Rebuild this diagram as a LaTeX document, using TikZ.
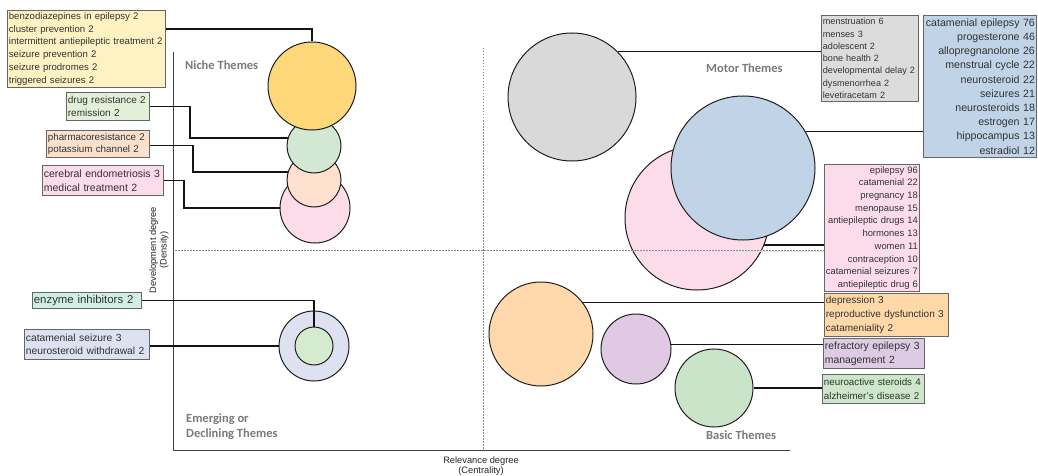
\documentclass[tikz,border=0pt]{standalone}
\usepackage{fontspec}
\setmainfont{Liberation Sans}
\newfontfamily\themefont{Carlito}
\definecolor{cYel}{HTML}{FDD77A}
\definecolor{bYel}{HTML}{FFF2C2}
\definecolor{cGrn}{HTML}{D3E8D2}
\definecolor{bGrn}{HTML}{E2EFD9}
\definecolor{cPch}{HTML}{FFE0CF}
\definecolor{bPch}{HTML}{FBE0CC}
\definecolor{cPnk}{HTML}{FDDCEA}
\definecolor{bPnk}{HTML}{FCDCEA}
\definecolor{bMnt}{HTML}{D0EEE2}
\definecolor{cLav}{HTML}{DDE1F0}
\definecolor{cInG}{HTML}{D5EBCF}
\definecolor{cGry}{HTML}{D9D9D9}
\definecolor{bGry}{HTML}{DCDCDC}
\definecolor{cBlu}{HTML}{C0D3E7}
\definecolor{cOrg}{HTML}{FFD9AB}
\definecolor{bOrg}{HTML}{FFD8A8}
\definecolor{cPur}{HTML}{E0C9E2}
\definecolor{bPur}{HTML}{DCCBE2}
\definecolor{cBgr}{HTML}{C9E4C8}
\definecolor{bBgr}{HTML}{CDE6CC}
\definecolor{gLine}{HTML}{D6EBD0}
\begin{document}
\begin{tikzpicture}[x=1pt,y=-1pt,
  kbox/.style={draw=black!60, line width=0.8pt, anchor=north west, inner xsep=1.5pt, inner ysep=0pt, text=black!80},
  bub/.style={circle, draw=black!88, line width=1pt, inner sep=0pt},
  link/.style={draw=black!92, line width=1.4pt},
  guide/.style={draw=black!45, dash pattern=on 1.5pt off 1.5pt, line width=0.6pt},
  axisline/.style={draw=black!75, line width=0.8pt},
  theme/.style={font=\themefont\bfseries\fontsize{12.5}{15}\selectfont, text=black!52, anchor=west, inner sep=0pt, align=left},
  axlabel/.style={font=\fontsize{9.3}{10.5}\selectfont, text=black!85, align=center, inner sep=0pt}]
\useasboundingbox (0,0) rectangle (1038,476);
\fill[white] (0,0) rectangle (1038,476);

% axes and vertical guide
\coordinate (axTop) at (173,52);
\coordinate (axOrg) at (173,450);
\coordinate (axEnd) at (790,450);
\draw[axisline] (axTop) -- (axOrg) -- (axEnd);
\coordinate (vTop) at (483,48);
\coordinate (vBot) at (483,450);
\draw[guide] (vTop) -- (vBot);

% axis labels
\node[axlabel] (xlab) at (481,466) {Relevance degree\\(Centrality)};
\node[axlabel, rotate=90] (ylab) at (159,250) {Development degree\\(Density)};

% theme labels
\node[theme] (niche) at (185,65) {Niche Themes};
\node[theme] (motor) at (706,68) {Motor Themes};
\node[theme] (emerg) at (186,426.5) {Emerging or\\Declining Themes};
\node[theme] (basic) at (706,435) {Basic Themes};

% niche circles
\node[bub, fill=cPnk, minimum size=70pt] (kc) at (315,208) {};
\node[bub, fill=cPch, minimum size=54pt] (pc) at (314,180) {};
\node[bub, fill=cGrn, minimum size=54pt] (gc) at (314,146) {};
\node[bub, fill=cYel, minimum size=88pt] (yc) at (312,86) {};

% emerging circles
\node[bub, fill=cLav, minimum size=70pt] (oc) at (314,346) {};
\node[bub, fill=cInG, minimum size=38pt] (ic) at (314,346) {};

% motor circles
\node[bub, fill=cGry, minimum size=128pt] (grc) at (572,97) {};
\node[bub, fill=cPnk, minimum size=144pt] (pkc) at (697,218) {};
\node[bub, fill=cBlu, minimum size=144pt] (bc) at (743,168) {};

% basic circles
\node[bub, fill=cOrg, minimum size=104pt] (orc) at (541,334) {};
\node[bub, fill=cPur, minimum size=70pt] (puc) at (636,349) {};
\node[bub, fill=cBgr, minimum size=78pt] (gnc) at (714,388) {};

% horizontal guide (over the circles)
\coordinate (hL) at (175,250);
\coordinate (hR) at (824,250);
\coordinate (gL) at (740,251.6);
\coordinate (gR) at (824,251.6);
\draw[gLine, line width=0.8pt] (gL) -- (gR);
\draw[guide] (hL) -- (hR);

% boxes left
\node[kbox, fill=bYel, text width=155pt, minimum height=77pt, align=left,
  font=\fontsize{9.6}{12.8}\selectfont] (Y) at (7,10)
  {benzodiazepines in epilepsy 2\\cluster prevention 2\\intermittent antiepileptic treatment 2\\seizure prevention 2\\seizure prodromes 2\\triggered seizures 2};
\node[kbox, fill=bGrn, text width=80pt, minimum height=28pt, align=left,
  font=\fontsize{10}{13}\selectfont] (G1) at (66,92)
  {drug resistance 2\\remission 2};
\node[kbox, fill=bPch, text width=100pt, minimum height=27pt, align=left,
  font=\fontsize{9.8}{12.5}\selectfont] (P1) at (46,130)
  {pharmacoresistance 2\\potassium channel 2};
\node[kbox, fill=bPnk, text width=118pt, minimum height=30pt, align=left,
  font=\fontsize{10.5}{14}\selectfont] (K1) at (42,165)
  {cerebral endometriosis 3\\medical treatment 2};
\node[kbox, fill=bMnt, text width=106pt, minimum height=16pt, align=left,
  font=\fontsize{11.4}{13}\selectfont] (E) at (32,292)
  {enzyme inhibitors 2};
\node[kbox, fill=cLav, text width=122pt, minimum height=30pt, align=left,
  font=\fontsize{10.3}{13.5}\selectfont] (L) at (24,329)
  {catamenial seizure 3\\neurosteroid withdrawal 2};

% boxes right
\node[kbox, fill=bGry, text width=94pt, minimum height=86pt, align=left,
  font=\fontsize{9.1}{12.3}\selectfont] (GR) at (821,15)
  {menstruation 6\\menses 3\\adolescent 2\\bone health 2\\developmental delay 2\\dysmenorrhea 2\\levetiracetam 2};
\node[kbox, fill=cBlu, text width=110pt, minimum height=142pt, align=right,
  font=\fontsize{10.6}{14.2}\selectfont] (B) at (923,15)
  {catamenial epilepsy 76\\progesterone 46\\allopregnanolone 26\\menstrual cycle 22\\neurosteroid 22\\seizures 21\\neurosteroids 18\\estrogen 17\\hippocampus 13\\estradiol 12};
\node[kbox, fill=bPnk, text width=92pt, minimum height=127pt, align=right,
  font=\fontsize{9.4}{12.7}\selectfont] (PK) at (824,164)
  {epilepsy 96\\catamenial 22\\pregnancy 18\\menopause 15\\antiepileptic drugs 14\\hormones 13\\women 11\\contraception 10\\catamenial seizures 7\\antiepileptic drug 6};
\node[kbox, fill=bOrg, text width=121pt, minimum height=43pt, align=left,
  font=\fontsize{10}{14}\selectfont] (O) at (824,293)
  {depression 3\\reproductive dysfunction 3\\catameniality 2};
\node[kbox, fill=bPur, text width=98pt, minimum height=30pt, align=left,
  font=\fontsize{10.4}{14}\selectfont] (PU) at (823,338)
  {refractory epilepsy 3\\management 2};
\node[kbox, fill=bBgr, text width=99pt, minimum height=29pt, align=left,
  font=\fontsize{9.8}{13.5}\selectfont] (GN) at (822,374)
  {neuroactive steroids 4\\alzheimer's disease 2};

% connectors
\draw[link] ([yshift=-19pt]Y.north east) -| (yc.north);
\draw[link] (G1.east) -- ++(40,0) |- (gc.163);
\draw[link] ([yshift=-1.5pt]P1.east) -- ++(43,0) |- (pc.163);
\draw[link] (K1.east) -- ++(20,0) |- (kc.west);
\draw[link] (E.east) -| (ic.north);
\draw[link] (L.east |- oc.west) -- (oc.west);
\draw[link] (grc.45) -- (GR.west |- grc.45);
\draw[link] (bc.30) -- (B.west |- bc.30);
\draw[link] (pkc.-22) -- (PK.west |- pkc.-22);
\draw[link] (orc.37) -- (O.west |- orc.37);
\draw[link] (puc.7) -- (PU.west |- puc.7);
\draw[link] (gnc.east) -- (GN.west |- gnc.east);
\end{tikzpicture}
\end{document}
